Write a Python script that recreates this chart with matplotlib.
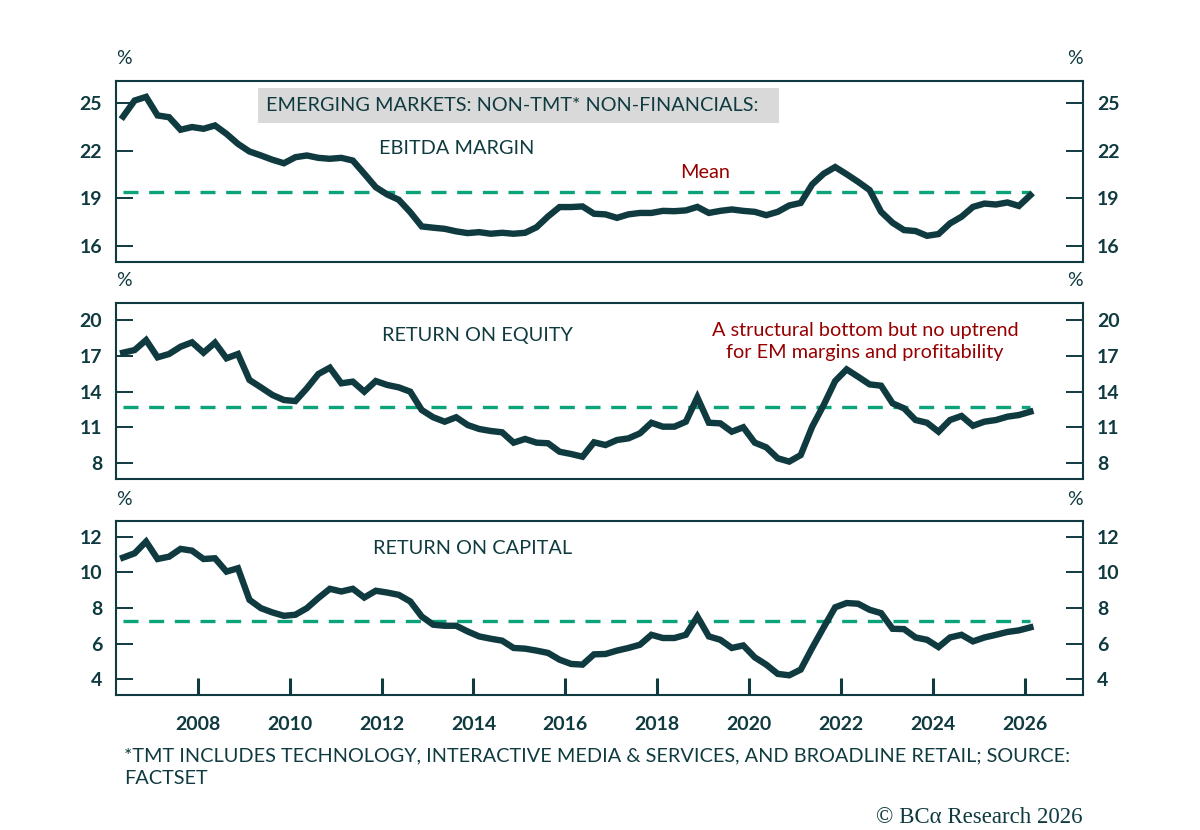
import numpy as np
import matplotlib
matplotlib.use("Agg")
import matplotlib.pyplot as plt
from matplotlib.ticker import FixedLocator
from matplotlib.patches import Rectangle

plt.rcParams['font.family'] = ['Lato', 'DejaVu Sans']

# ---------------- data (quarterly, 2006Q2 .. 2026Q1) ----------------
start_year = 2006.375
n_q = 80
dates = start_year + 0.25 * np.arange(n_q)

ebitda_margin = [24.16, 25.17, 25.40, 24.23, 24.12, 23.33, 23.50, 23.39, 23.60, 23.07,
                 22.44, 21.96, 21.71, 21.44, 21.22, 21.60, 21.71, 21.56, 21.50, 21.56,
                 21.39, 20.56, 19.71, 19.25, 18.92, 18.14, 17.24, 17.16, 17.09, 16.93,
                 16.82, 16.88, 16.78, 16.84, 16.78, 16.84, 17.19, 17.87, 18.46, 18.46,
                 18.50, 18.04, 18.00, 17.78, 18.00, 18.09, 18.09, 18.22, 18.20, 18.25,
                 18.47, 18.09, 18.22, 18.31, 18.22, 18.16, 17.95, 18.16, 18.56, 18.72,
                 19.89, 20.56, 20.98, 20.53, 20.05, 19.53, 18.16, 17.47, 17.01, 16.95,
                 16.65, 16.76, 17.43, 17.85, 18.47, 18.68, 18.62, 18.75, 18.53, 19.21]

return_on_equity = [17.26, 17.48, 18.32, 16.87, 17.15, 17.76, 18.13, 17.26, 18.10, 16.79,
                    17.15, 14.97, 14.35, 13.71, 13.29, 13.20, 14.27, 15.47, 16.00, 14.69,
                    14.83, 13.99, 14.88, 14.55, 14.35, 13.99, 12.45, 11.84, 11.47, 11.84,
                    11.19, 10.86, 10.69, 10.58, 9.71, 10.02, 9.71, 9.66, 8.95, 8.76,
                    8.53, 9.74, 9.51, 9.93, 10.07, 10.49, 11.38, 11.05, 11.05, 11.47,
                    13.51, 11.38, 11.33, 10.63, 11.00, 9.71, 9.32, 8.40, 8.12, 8.67,
                    11.05, 12.87, 14.88, 15.86, 15.24, 14.60, 14.49, 13.01, 12.59, 11.61,
                    11.38, 10.63, 11.61, 11.95, 11.13, 11.47, 11.61, 11.89, 12.03, 12.31]

return_on_capital = [10.84, 11.08, 11.74, 10.76, 10.89, 11.33, 11.23, 10.76, 10.80, 10.05,
                     10.24, 8.46, 7.99, 7.75, 7.56, 7.62, 7.99, 8.56, 9.08, 8.93,
                     9.08, 8.59, 8.97, 8.87, 8.74, 8.37, 7.52, 7.06, 7.00, 7.00,
                     6.68, 6.40, 6.27, 6.16, 5.75, 5.71, 5.60, 5.47, 5.09, 4.85,
                     4.81, 5.39, 5.41, 5.60, 5.75, 5.93, 6.49, 6.31, 6.31, 6.49,
                     7.52, 6.40, 6.21, 5.75, 5.89, 5.22, 4.81, 4.29, 4.21, 4.53,
                     5.75, 6.91, 8.04, 8.28, 8.24, 7.90, 7.71, 6.83, 6.81, 6.34,
                     6.21, 5.80, 6.34, 6.49, 6.12, 6.34, 6.49, 6.65, 6.74, 6.91]

means = [19.38, 12.68, 7.27]
panel_titles = ["EBITDA MARGIN", "RETURN ON EQUITY", "RETURN ON CAPITAL"]
yticks = [[16, 19, 22, 25], [8, 11, 14, 17, 20], [4, 6, 8, 10, 12]]
ylims = [(15.0, 26.4), (6.66, 21.43), (3.1, 12.9)]
xticks = [2008, 2010, 2012, 2014, 2016, 2018, 2020, 2022, 2024, 2026]
xlim = (2006.22, 2027.27)

header = "EMERGING MARKETS: NON-TMT* NON-FINANCIALS:"
note = "A structural bottom but no uptrend\nfor EM margins and profitability"
footnote = "*TMT INCLUDES TECHNOLOGY, INTERACTIVE MEDIA & SERVICES, AND BROADLINE RETAIL; SOURCE:\nFACTSET"
copyright_txt = "\u00a9 BC\u03b1 Research 2026"

# ---------------- styling ----------------
DARK = "#0f3a3f"
GREEN = "#0aa37a"
RED = "#960000"
FS = 14.3

W, H = 1200, 830
fig = plt.figure(figsize=(12, 8.3), dpi=100)

boxes_px = [(81, 262), (303, 479), (521, 695)]
left_px, right_px = 116, 1083
series = [ebitda_margin, return_on_equity, return_on_capital]
for i, (top, bot) in enumerate(boxes_px):
    ax = fig.add_axes([left_px / W, 1 - bot / H, (right_px - left_px) / W, (bot - top) / H])
    ax.plot(dates, series[i], color=DARK, lw=4.6, solid_joinstyle='miter', zorder=3)
    ax.plot([dates[0], dates[-1]], [means[i], means[i]], color=GREEN, lw=2.4,
            dashes=(4.5, 3.2), zorder=2)
    ax.set_xlim(*xlim)
    ax.set_ylim(*ylims[i])
    ax.yaxis.set_major_locator(FixedLocator(yticks[i]))
    ax.tick_params(axis='y', which='both', direction='in', length=12, width=1.4,
                   color=DARK, labelcolor=DARK, labelsize=14, left=True, right=True,
                   labelleft=True, labelright=True, pad=10)
    for sp in ax.spines.values():
        sp.set_color(DARK)
        sp.set_linewidth(1.5)
    if i < 2:
        ax.set_xticks([])
    else:
        ax.xaxis.set_major_locator(FixedLocator(xticks))
        ax.tick_params(axis='x', direction='in', length=12, width=2.2, color=DARK,
                       labelcolor=DARK, labelsize=14, pad=15)
        for lab in ax.get_xticklabels():
            lab.set_fontweight('bold')
    for lab in ax.get_yticklabels():
        lab.set_fontweight('bold')
    fig.text(124 / W, 1 - (top - 22) / H, "%", color=DARK, fontsize=14, ha='center', va='center')
    fig.text(1075 / W, 1 - (top - 22) / H, "%", color=DARK, fontsize=14, ha='center', va='center')

# header box
fig.patches.append(Rectangle((258 / W, 1 - 123 / H), (779 - 258) / W, 35 / H,
                             transform=fig.transFigure, facecolor='#d9d9d9',
                             edgecolor='none', zorder=5))
fig.text(266 / W, 1 - 105.5 / H, header, color=DARK, fontsize=FS, ha='left', va='center',
         zorder=6)

# panel titles
title_pos = [(457, 148), (477, 335), (473, 548)]
for (x, y), t in zip(title_pos, panel_titles):
    fig.text(x / W, 1 - y / H, t, color=DARK, fontsize=FS, ha='center', va='center')

fig.text(705 / W, 1 - 172 / H, "Mean", color=RED, fontsize=FS, ha='center', va='center')
fig.text(865 / W, 1 - 341.5 / H, note, color=RED, fontsize=FS, ha='center', va='center',
         linespacing=1.33)

fig.text(124 / W, 1 - 767 / H, footnote, color=DARK, fontsize=FS, ha='left', va='center',
         linespacing=1.38)
fig.text(1083 / W, 1 - 817 / H, copyright_txt, color=DARK, fontsize=16.5, ha='right',
         va='center', family=['Liberation Serif', 'DejaVu Serif'])

fig.savefig("out.png", dpi=100, facecolor='white')
